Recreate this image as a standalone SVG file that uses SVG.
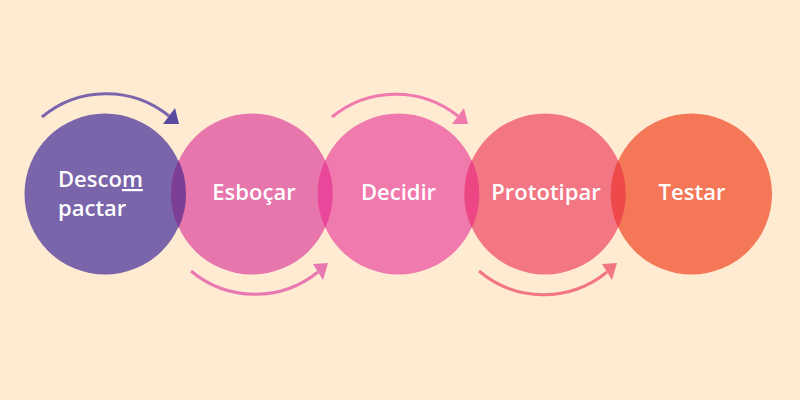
<svg xmlns="http://www.w3.org/2000/svg" width="800" height="400" viewBox="0 0 800 400">
<style>
.lbl{font-family:"Open Sans","Noto Sans","Liberation Sans",sans-serif;font-weight:600;font-size:22px;fill:#ffffff}
.arc{fill:none;stroke-width:3;stroke-linecap:butt}
</style>
<rect width="800" height="400" fill="#FEEBD2"/>
<g id="node-descompactar">
<circle cx="105" cy="194" r="80.5" fill="#7A64AA"/>
<text class="lbl" x="58" y="187">Desco<tspan text-decoration="underline">m</tspan></text>
<text class="lbl" x="58" y="216">pactar</text>
</g>
<g id="node-esbocar">
<circle cx="252" cy="194" r="80.5" fill="#E676AC"/>
<text class="lbl" x="254" y="200" text-anchor="middle">Esboçar</text>
</g>
<g id="node-decidir">
<circle cx="398.5" cy="194" r="80.5" fill="#F079AE"/>
<text class="lbl" x="398.5" y="200" text-anchor="middle">Decidir</text>
</g>
<g id="node-prototipar">
<circle cx="545" cy="194" r="80.5" fill="#F27683"/>
<text class="lbl" x="546" y="200" text-anchor="middle">Prototipar</text>
</g>
<g id="node-testar">
<circle cx="691.5" cy="194" r="80.5" fill="#F47757"/>
<text class="lbl" x="692" y="200" text-anchor="middle">Testar</text>
</g>
<g id="overlaps">
<path d="M178.5,160 A80.5,80.5 0 0 1 178.5,228 A80.5,80.5 0 0 1 178.5,160 Z" fill="#7D3F96"/>
<path d="M325.2,160 A80.5,80.5 0 0 1 325.2,228 A80.5,80.5 0 0 1 325.2,160 Z" fill="#E9489A"/>
<path d="M471.8,160 A80.5,80.5 0 0 1 471.8,228 A80.5,80.5 0 0 1 471.8,160 Z" fill="#EC4685"/>
<path d="M618.2,160 A80.5,80.5 0 0 1 618.2,228 A80.5,80.5 0 0 1 618.2,160 Z" fill="#EE4A4B"/>
</g>
<g id="connectors">
<path class="arc" d="M42,117 A100,100 0 0 1 169,116" stroke="#7B66AE"/>
<polygon points="179,124 175,108 163,124" fill="#574A9F"/>
<path class="arc" d="M191,271 A100,100 0 0 0 318,272" stroke="#E878B2"/>
<polygon points="328,263 313,264 323,280" fill="#E878B2"/>
<path class="arc" d="M332,117 A100,100 0 0 1 458,116" stroke="#F07AAE"/>
<polygon points="468,124 464,108 452,124" fill="#F07AAE"/>
<path class="arc" d="M479,271 A100,100 0 0 0 607,272" stroke="#F27683"/>
<polygon points="617,263 602,264 612,280" fill="#F27683"/>
</g>
</svg>
